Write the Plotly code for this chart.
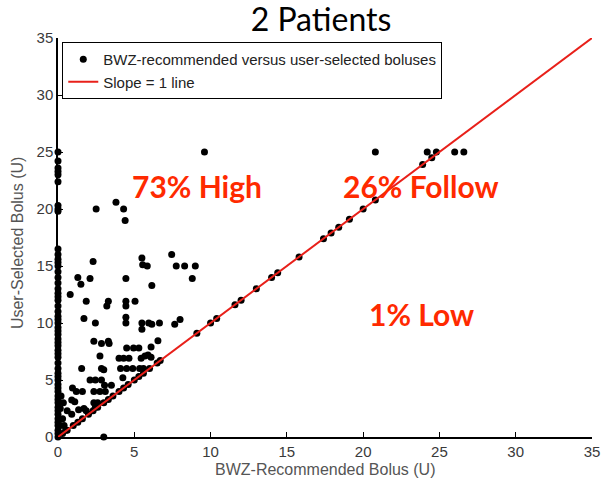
import plotly.graph_objects as go

# x = 0 column (BWZ recommended 0, user selected various)
zero_col_y = [0, 0.3, 0.6, 1, 1.3, 1.6, 2, 2.3, 2.6, 3, 3.3, 3.6, 4, 4.3, 4.6, 5, 5.3, 5.6,
              6, 6.5, 7, 7.3, 7.6, 8, 8.3, 8.6, 9, 9.3, 9.6, 10, 10.3, 10.6, 11, 11.5, 12,
              12.3, 12.6, 13, 13.5, 14, 14.5, 15, 15.3, 15.6, 16, 16.5, 19.8, 20, 20.3,
              22.4, 23, 23.3, 23.6, 24.2, 25]

# off-diagonal points (recommended, selected)
off_x = [2.5, 3.8, 4.3, 4.4, 9.6, 20.8, 24.2, 24.8, 26, 26.6,
         2.3, 5.5, 5.55, 5.85, 7.45, 7.75, 8.3, 9, 8.8,
         1.3, 1.5, 2.1, 4.45, 6.15,
         0.8, 1.85, 3.3, 3.2, 4.45, 4.45, 5.05,
         1.7, 2.45, 4.45, 4.45, 5.5, 5.5, 5.95, 6.15, 6.65, 7.65, 8.0,
         6.55, 6.1, 6.1,
         2.35, 2.85, 3.3, 3.35, 2.75, 4.5, 4.95, 5.3,
         4.0, 4.3, 4.65, 5.45, 5.7, 5.9,
         1.55, 2.85, 3.0, 4.1, 4.5, 4.9, 5.35, 5.6,
         4.25, 2.1, 2.45, 2.85, 3.05, 3.5,
         0.95, 1.2, 1.6, 2.35, 2.75, 3.1,
         0.35, 0.9, 1.1, 1.35, 1.7, 1.85, 2.35, 2.45, 2.6, 0.9, 3.0,
         0.4, 0.5, 0.3, 0.6, 0.15, 0.15, 0.2]
off_y = [20, 20.6, 20, 19, 25, 25, 25, 25, 25, 25,
         15.4, 15.7, 15.1, 15, 16, 15, 15, 15, 13.9,
         14, 13.4, 13.9, 13.9, 13.3,
         12.5, 11.9, 11.9, 11.5, 11.9, 11.5, 11.9,
         10.4, 10, 10.5, 10, 10, 9.45, 10, 9.9, 10, 9.9, 10.3,
         8.45, 7.9, 7.0,
         8.4, 8.2, 8.4, 8.2, 7.1, 7.8, 7.8, 7.8,
         6.9, 6.9, 6.9, 6.9, 7.1, 7.2,
         6, 6, 5.9, 6, 6, 6, 6, 6,
         5.2, 5, 5, 5, 4.55, 4.55,
         4.3, 4, 4, 4, 4, 4,
         3, 3.25, 3.1, 2.4, 2.5, 2.3, 3, 2.6, 3, 2, 0,
         1, 0.6, 1.6, 2.3, 1.0, 2.5, 3.6]

# points on the slope = 1 line
diag_vals = [0.3, 0.6, 1, 1.3, 1.6, 2, 2.3, 2.6, 3, 3.3, 3.6, 4, 4.3, 4.6, 5, 5.3, 5.6, 6,
             6.5, 6.7, 9.1, 10, 10.4, 11.6, 12, 13, 14, 14.4, 15.8, 17.4, 17.9, 18.4, 19.1,
             20, 20.8, 23.9, 24.5]

line_x = [0, 35]
line_y = [0, 35]

tick_vals = [0, 5, 10, 15, 20, 25, 30, 35]

rec = [0] * len(zero_col_y) + off_x + diag_vals
sel = zero_col_y + off_y + diag_vals

fig = go.Figure()
fig.add_trace(go.Scatter(
    x=rec, y=sel, mode="markers",
    marker=dict(color="black", size=7),
    name="BWZ-recommended versus user-selected boluses",
    cliponaxis=False,
))
fig.add_trace(go.Scatter(
    x=line_x, y=line_y, mode="lines",
    line=dict(color="#e8201a", width=2),
    name="Slope = 1 line",
    cliponaxis=False,
))

sans = "Liberation Sans, Arial, sans-serif"
tick_font = dict(family=sans, size=15, color="#3a3a3a")
axis_common = dict(
    range=[0, 35], tickvals=tick_vals,
    showgrid=False, zeroline=False, showline=True, linecolor="black", linewidth=1.5,
    ticks="inside", ticklen=5, tickcolor="black", tickwidth=1.2,
    tickfont=tick_font, fixedrange=True, automargin=False, ticklabeloverflow="allow",
)

W, H = 601, 479
fig.update_layout(
    width=W, height=H,
    margin=dict(l=58, r=9, t=38, b=42),
    paper_bgcolor="white", plot_bgcolor="white",
    showlegend=True,
    legend=dict(
        x=0.008, y=0.99, xanchor="left", yanchor="top",
        bordercolor="black", borderwidth=1, bgcolor="white",
        font=dict(family=sans, size=15, color="#222"),
        tracegroupgap=0, itemwidth=30,
    ),
    xaxis=dict(axis_common),
    yaxis=dict(axis_common),
    title=dict(text="2 Patients", x=321 / W, xanchor="center", y=1 - 20 / H, yanchor="middle",
               font=dict(family="Lato, sans-serif", size=32, color="black")),
)

title_font = dict(family=sans, size=16, color="#555")
fig.add_annotation(text="BWZ-Recommended Bolus (U)", xref="paper", yref="paper",
                   x=0.5, y=0, yshift=-32, yanchor="middle", showarrow=False, font=title_font)
fig.add_annotation(text="User-Selected Bolus (U)", xref="paper", yref="paper",
                   x=0, y=0.486, xshift=-41, xanchor="center", textangle=-90,
                   showarrow=False, font=title_font)

red = "#ff2a00"
ann_font = dict(family="Lato, sans-serif", size=30, color=red)
fig.add_annotation(x=9.1, y=22.0, text="<b>73% High</b>", showarrow=False, font=ann_font)
fig.add_annotation(x=23.8, y=22.0, text="<b>26% Follow</b>", showarrow=False, font=ann_font)
fig.add_annotation(x=23.8, y=10.8, text="<b>1% Low</b>", showarrow=False, font=ann_font)

# remove the default 8px page margin so the figure fills the 601x479 window exactly
fig.write_html("out.html", config={"displayModeBar": False},
               post_script="document.body.style.margin='0';document.body.style.overflow='hidden';")
